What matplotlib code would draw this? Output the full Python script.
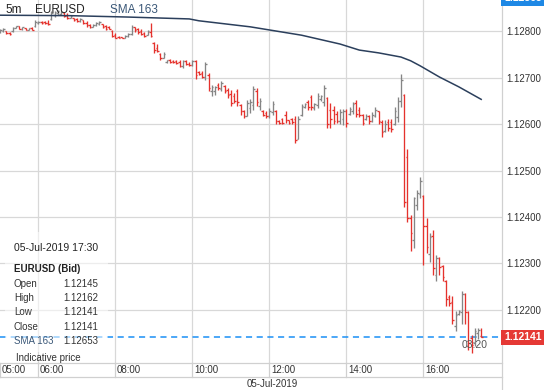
import matplotlib
matplotlib.use('Agg')
import matplotlib.pyplot as plt
import matplotlib.patches as mpatches
import numpy as np

plt.rcParams['font.family'] = ['Liberation Sans', 'DejaVu Sans']

# EURUSD 5m bars, 05:00 .. 17:30 (bar index 0 = 05:00)
opens = [1.12797, 1.12801, 1.12799, 1.12796, 1.12799, 1.12807, 1.12810, 1.12804, 1.12806, 1.12803,
         1.12807, 1.12810, 1.12817, 1.12820, 1.12819, 1.12818, 1.12826, 1.12835, 1.12838, 1.12837,
         1.12839, 1.12834, 1.12828, 1.12828, 1.12825, 1.12821, 1.12823, 1.12818, 1.12813, 1.12809,
         1.12813, 1.12815, 1.12815, 1.12810, 1.12808, 1.12800, 1.12792, 1.12788, 1.12787, 1.12785,
         1.12789, 1.12793, 1.12808, 1.12804, 1.12799, 1.12796, 1.12791, 1.12798, 1.12775, 1.12763,
         1.12750, 1.12743, 1.12733, 1.12738, 1.12736, 1.12735, 1.12733, 1.12724, 1.12736, 1.12730,
         1.12726, 1.12735, 1.12711, 1.12709, 1.12702, 1.12706, 1.12670, 1.12672, 1.12684, 1.12676,
         1.12682, 1.12673, 1.12665, 1.12660, 1.12670, 1.12640, 1.12628, 1.12618, 1.12634, 1.12640,
         1.12672, 1.12638, 1.12628, 1.12624, 1.12617, 1.12625, 1.12628, 1.12607, 1.12610, 1.12620,
         1.12608, 1.12611, 1.12610, 1.12568, 1.12620, 1.12636, 1.12648, 1.12658, 1.12634, 1.12640,
         1.12654, 1.12648, 1.12655, 1.12630, 1.12630, 1.12622, 1.12606, 1.12610, 1.12628, 1.12622,
         1.12628, 1.12645, 1.12630, 1.12619, 1.12610, 1.12617, 1.12607, 1.12618, 1.12627, 1.12604,
         1.12585, 1.12604, 1.12605, 1.12600, 1.12615, 1.12650, 1.12662, 1.12529, 1.12398, 1.12350,
         1.12425, 1.12450, 1.12445, 1.12380, 1.12320, 1.12360, 1.12275, 1.12312, 1.12295, 1.12262,
         1.12228, 1.12218, 1.12165, 1.12191, 1.12195, 1.12235, 1.12195, 1.12140, 1.12128, 1.12150,
         1.12145]
highs = [1.12804, 1.12806, 1.12800, 1.12798, 1.12809, 1.12811, 1.12811, 1.12809, 1.12807, 1.12807,
         1.12809, 1.12824, 1.12821, 1.12821, 1.12821, 1.12824, 1.12842, 1.12842, 1.12845, 1.12843,
         1.12840, 1.12838, 1.12834, 1.12829, 1.12827, 1.12827, 1.12824, 1.12821, 1.12816, 1.12816,
         1.12820, 1.12821, 1.12816, 1.12813, 1.12811, 1.12802, 1.12795, 1.12790, 1.12788, 1.12791,
         1.12795, 1.12813, 1.12809, 1.12806, 1.12804, 1.12798, 1.12802, 1.12817, 1.12776, 1.12773,
         1.12752, 1.12755, 1.12738, 1.12740, 1.12738, 1.12738, 1.12738, 1.12738, 1.12738, 1.12734,
         1.12738, 1.12738, 1.12713, 1.12713, 1.12734, 1.12709, 1.12684, 1.12682, 1.12688, 1.12692,
         1.12684, 1.12677, 1.12674, 1.12667, 1.12675, 1.12642, 1.12631, 1.12652, 1.12654, 1.12681,
         1.12677, 1.12656, 1.12631, 1.12627, 1.12634, 1.12649, 1.12631, 1.12609, 1.12613, 1.12627,
         1.12609, 1.12613, 1.12617, 1.12617, 1.12642, 1.12645, 1.12652, 1.12663, 1.12645, 1.12667,
         1.12663, 1.12684, 1.12659, 1.12645, 1.12638, 1.12627, 1.12633, 1.12633, 1.12633, 1.12636,
         1.12647, 1.12651, 1.12636, 1.12622, 1.12622, 1.12619, 1.12626, 1.12636, 1.12629, 1.12608,
         1.12608, 1.12611, 1.12611, 1.12636, 1.12658, 1.12708, 1.12665, 1.12547, 1.12404, 1.12444,
         1.12458, 1.12486, 1.12447, 1.12397, 1.12365, 1.12372, 1.12319, 1.12315, 1.12297, 1.12265,
         1.12233, 1.12230, 1.12197, 1.12201, 1.12240, 1.12237, 1.12197, 1.12147, 1.12162, 1.12162,
         1.12162]
lows = [1.12795, 1.12798, 1.12793, 1.12791, 1.12798, 1.12806, 1.12804, 1.12802, 1.12802, 1.12802,
        1.12802, 1.12809, 1.12816, 1.12816, 1.12816, 1.12813, 1.12824, 1.12831, 1.12834, 1.12834,
        1.12831, 1.12826, 1.12827, 1.12821, 1.12820, 1.12820, 1.12816, 1.12809, 1.12806, 1.12809,
        1.12811, 1.12813, 1.12806, 1.12802, 1.12804, 1.12788, 1.12784, 1.12784, 1.12784, 1.12785,
        1.12788, 1.12791, 1.12798, 1.12793, 1.12791, 1.12788, 1.12791, 1.12787, 1.12752, 1.12755,
        1.12737, 1.12741, 1.12732, 1.12731, 1.12732, 1.12729, 1.12722, 1.12720, 1.12727, 1.12724,
        1.12724, 1.12697, 1.12706, 1.12699, 1.12695, 1.12670, 1.12661, 1.12663, 1.12674, 1.12670,
        1.12667, 1.12656, 1.12638, 1.12645, 1.12638, 1.12620, 1.12613, 1.12617, 1.12624, 1.12631,
        1.12638, 1.12631, 1.12617, 1.12613, 1.12613, 1.12620, 1.12599, 1.12599, 1.12599, 1.12602,
        1.12601, 1.12599, 1.12560, 1.12567, 1.12617, 1.12634, 1.12631, 1.12631, 1.12631, 1.12634,
        1.12649, 1.12638, 1.12592, 1.12592, 1.12599, 1.12602, 1.12601, 1.12597, 1.12594, 1.12619,
        1.12622, 1.12615, 1.12615, 1.12597, 1.12608, 1.12601, 1.12604, 1.12615, 1.12601, 1.12572,
        1.12583, 1.12586, 1.12583, 1.12597, 1.12604, 1.12636, 1.12422, 1.12390, 1.12326, 1.12333,
        1.12415, 1.12440, 1.12297, 1.12322, 1.12304, 1.12276, 1.12262, 1.12276, 1.12262, 1.12208,
        1.12208, 1.12169, 1.12155, 1.12190, 1.12169, 1.12169, 1.12115, 1.12108, 1.12122, 1.12137,
        1.12141]
closes = [1.12802, 1.12804, 1.12795, 1.12793, 1.12807, 1.12810, 1.12805, 1.12808, 1.12803, 1.12806,
          1.12803, 1.12820, 1.12820, 1.12817, 1.12817, 1.12815, 1.12838, 1.12840, 1.12843, 1.12841,
          1.12833, 1.12828, 1.12832, 1.12823, 1.12821, 1.12825, 1.12818, 1.12812, 1.12808, 1.12814,
          1.12818, 1.12819, 1.12809, 1.12805, 1.12805, 1.12790, 1.12786, 1.12785, 1.12785, 1.12789,
          1.12793, 1.12808, 1.12803, 1.12798, 1.12794, 1.12790, 1.12799, 1.12790, 1.12760, 1.12758,
          1.12742, 1.12750, 1.12737, 1.12733, 1.12733, 1.12731, 1.12725, 1.12735, 1.12729, 1.12726,
          1.12735, 1.12706, 1.12707, 1.12702, 1.12728, 1.12678, 1.12680, 1.12680, 1.12677, 1.12688,
          1.12672, 1.12662, 1.12645, 1.12650, 1.12648, 1.12628, 1.12618, 1.12645, 1.12648, 1.12676,
          1.12648, 1.12650, 1.12620, 1.12617, 1.12628, 1.12642, 1.12606, 1.12602, 1.12603, 1.12608,
          1.12603, 1.12604, 1.12566, 1.12610, 1.12638, 1.12643, 1.12636, 1.12636, 1.12642, 1.12660,
          1.12660, 1.12678, 1.12600, 1.12610, 1.12606, 1.12606, 1.12625, 1.12628, 1.12602, 1.12632,
          1.12642, 1.12622, 1.12620, 1.12603, 1.12618, 1.12607, 1.12620, 1.12630, 1.12606, 1.12582,
          1.12600, 1.12592, 1.12590, 1.12628, 1.12650, 1.12695, 1.12433, 1.12398, 1.12365, 1.12440,
          1.12452, 1.12478, 1.12380, 1.12335, 1.12358, 1.12290, 1.12312, 1.12292, 1.12270, 1.12224,
          1.12215, 1.12178, 1.12190, 1.12198, 1.12235, 1.12195, 1.12130, 1.12125, 1.12155, 1.12158,
          1.12141]

# SMA 163 at a few bars
sma_bars = [0, 22, 40, 59, 62, 78, 94, 106, 112, 118, 125, 128, 131, 137, 143, 150]
sma_vals = [1.12834, 1.12833, 1.12830, 1.12826, 1.12822, 1.12809, 1.12791, 1.12772,
            1.12759, 1.12753, 1.12744, 1.12736, 1.12725, 1.12701, 1.12680, 1.12653]

hour_bars = [0, 12, 36, 60, 84, 108, 132]
hour_labels = ['05:00', '06:00', '08:00', '10:00', '12:00', '14:00', '16:00']
price_ticks = [1.122, 1.123, 1.124, 1.125, 1.126, 1.127, 1.128]

RED = '#e5322d'
GRAY = '#858585'
GRID = '#d8d8d8'

fig = plt.figure(figsize=(5.46, 3.9), dpi=100)
ax = fig.add_axes([0, 27 / 390, 502 / 546, 363 / 390])
ax.set_xlim(0, 502 / 3.208)
ax.set_ylim(1.120860, 1.128667)
for s in ax.spines.values():
    s.set_visible(False)

ax.yaxis.tick_right()
ax.set_yticks(price_ticks)
ax.set_yticklabels(['%.5f' % v for v in price_ticks])
ax.tick_params(axis='y', length=0, pad=3, labelsize=7, labelcolor='#333333')
ax.set_xticks(hour_bars[1:])
ax.set_xticklabels([])
ax.tick_params(axis='x', length=0)
ax.grid(True, color=GRID, lw=0.9)
ax.set_axisbelow(True)

idx = np.arange(len(opens))
o = np.array(opens)
c = np.array(closes)
cols = [RED if cc < oo else GRAY for oo, cc in zip(o, c)]
ax.vlines(idx, lows, highs, colors=cols, lw=0.95, zorder=3)
ax.hlines(o, idx - 0.5, idx, colors=cols, lw=0.95, zorder=3)
ax.hlines(c, idx, idx + 0.5, colors=cols, lw=0.95, zorder=3)

ax.plot(sma_bars, sma_vals, color='#2b3f5c', lw=1.1, zorder=4)

# crosshair on last close
ax.axhline(closes[-1], color='#1a8ff5', lw=1.1, ls=(0, (4, 3)), zorder=2)


def ay(py):
    return (363 - py) / 363


# info box
ax.add_patch(mpatches.Rectangle((5 / 502, ay(352)), 103 / 502, ay(232) - ay(352),
                                transform=ax.transAxes, facecolor='white', alpha=0.55,
                                edgecolor='none', zorder=5))
tA = ax.transAxes
ax.text(14 / 502, ay(248), '05-Jul-2019 17:30', transform=tA, fontsize=7.5,
        color='#222222', va='center', zorder=6)
ax.text(14 / 502, ay(269), 'EURUSD (Bid)', transform=tA, fontsize=7, weight='bold',
        color='#222222', va='center', zorder=6)
rows = [('Open', opens[-1]), ('High', highs[-1]), ('Low', lows[-1]), ('Close', closes[-1]),
        ('SMA 163', sma_vals[-1])]
for k, (lab, val) in enumerate(rows):
    py = 284 + k * 14.2
    col = '#3b5878' if lab.startswith('SMA') else '#333333'
    ax.text(14 / 502, ay(py), lab, transform=tA, fontsize=7, color=col, va='center', zorder=6)
    ax.text(63 / 502, ay(py), '%.5f' % val, transform=tA, fontsize=7, color='#333333',
            va='center', zorder=6)
ax.text(16 / 502, ay(358), 'Indicative price', transform=tA, fontsize=7, color='#333333',
        va='center', zorder=6)

# top legend
ax.text(5 / 502, ay(10), '5m', transform=tA, fontsize=8.5, color='#222222', va='center', zorder=6)
ax.text(35 / 502, ay(10), 'EURUSD', transform=tA, fontsize=8.5, color='#222222', va='center', zorder=6)
ax.text(110 / 502, ay(10), 'SMA 163', transform=tA, fontsize=8.5, color='#3b5878', va='center', zorder=6)

# countdown label near last bar
ax.text(462 / 502, ay(345), '03:20', transform=tA, fontsize=7.5, color='#555555', va='center', zorder=6)

# price labels on right axis
tY = ax.get_yaxis_transform()
ax.text(1.004, closes[-1], '%.5f' % closes[-1], transform=tY, fontsize=7.5, weight='bold',
        color='white', va='center', ha='left', clip_on=False, zorder=7,
        bbox=dict(boxstyle='square,pad=0.25', fc='#e53935', ec='none'))
ax.text(1.004, 1.12870, '1.12865', transform=tY, fontsize=7.5, weight='bold',
        color='white', va='center', ha='left', clip_on=False, zorder=7,
        bbox=dict(boxstyle='square,pad=0.25', fc='#1e88e5', ec='none'))

# time axis band
tX = ax.get_xaxis_transform()
for yb in (363, 377):
    ax.plot([0, 1], [ay(yb), ay(yb)], transform=tA, color='#d0d0d0', lw=0.9, clip_on=False)
for hb, hl in zip(hour_bars, hour_labels):
    ax.plot([hb, hb], [ay(363), ay(377)], transform=tX, color='#d0d0d0', lw=0.9, clip_on=False)
    ax.text(hb + 0.5, ay(370), hl, transform=tX, fontsize=7, color='#333333',
            va='center', ha='left', clip_on=False)
ax.text(247 / 502, ay(384), '05-Jul-2019', transform=tA, fontsize=7, color='#333333',
        va='center', ha='left', clip_on=False)
ax.plot([1, 1], [ay(0), ay(390)], transform=tA, color='#d0d0d0', lw=0.9, clip_on=False)

fig.savefig('out.png', dpi=100)
